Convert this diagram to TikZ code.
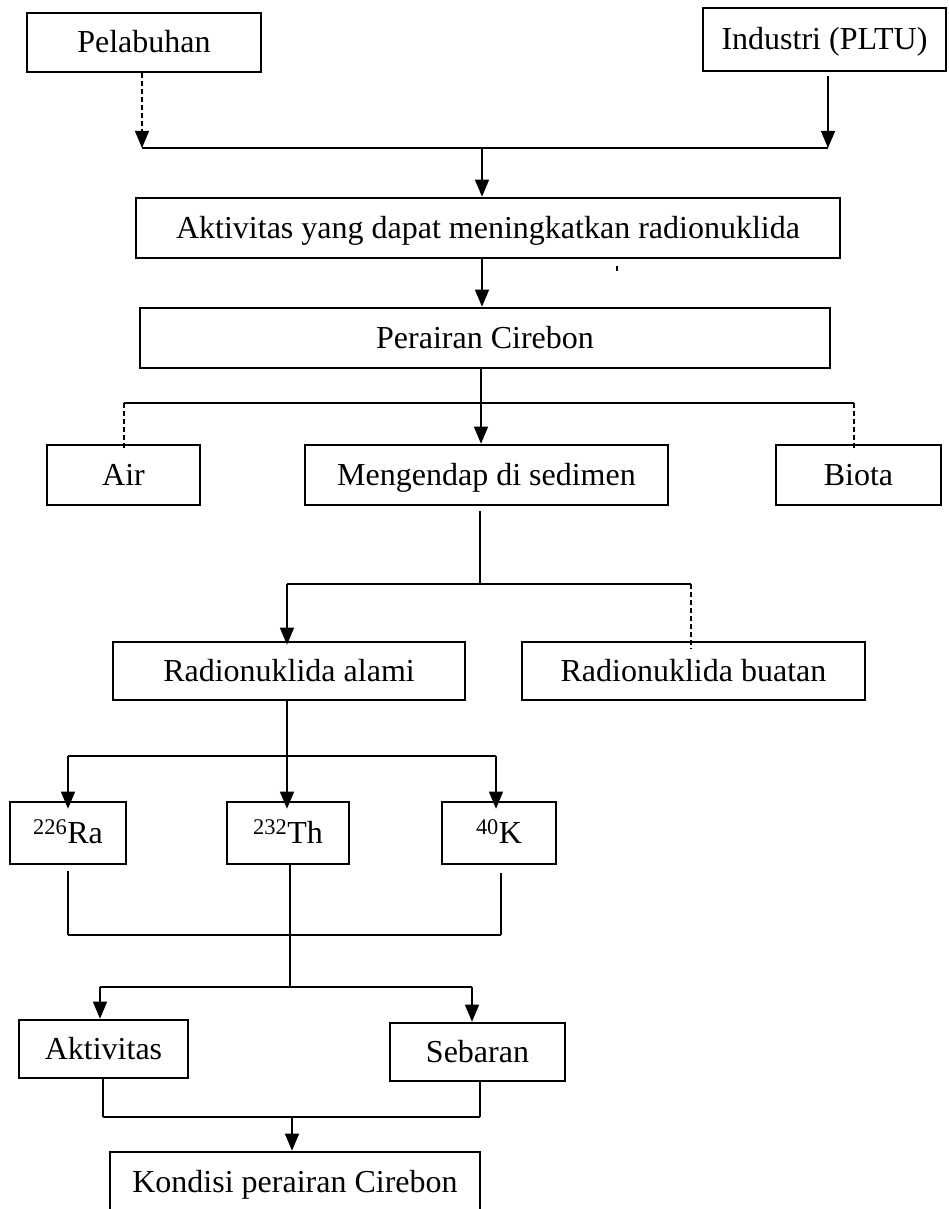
\documentclass[tikz,border=0pt]{standalone}
\usepackage{fontspec}
\setmainfont{Liberation Serif}
\usetikzlibrary{arrows.meta,calc}
\tikzset{
  box/.style={draw, line width=2.6pt, rectangle, inner sep=0pt, align=center,
    text height=28pt, text depth=7pt,
    font=\fontsize{32}{38}\selectfont},
  tip/.style={-{Triangle[length=17pt,width=14pt]}},
  conn/.style={line width=1.3pt},
  arr/.style={conn, tip},
  dsh/.style={conn, dash pattern=on 5pt off 3pt},
}
\begin{document}
\begin{tikzpicture}[x=1pt,y=-1pt]
\useasboundingbox (0,0) rectangle (948,1209);
% nodes
\node[box, minimum width=234pt, minimum height=59pt] (pel) at (144,42.5) {Pelabuhan};
\node[box, minimum width=243pt, minimum height=63pt] (ind) at (824.5,39.5) {Industri (PLTU)};
\node[box, minimum width=704pt, minimum height=60pt] (akt) at (488,228) {Aktivitas yang dapat meningkatkan radionuklida};
\node[box, minimum width=690pt, minimum height=60pt] (per) at (485,338) {Perairan Cirebon};
\node[box, minimum width=153pt, minimum height=60pt] (air) at (123.5,475) {Air};
\node[box, minimum width=363pt, minimum height=60pt] (meng) at (486.5,475) {Mengendap di sedimen};
\node[box, minimum width=165pt, minimum height=60pt] (bio) at (858.5,475) {Biota};
\node[box, minimum width=352pt, minimum height=58pt] (alami) at (289,671) {Radionuklida alami};
\node[box, minimum width=343pt, minimum height=58pt] (buatan) at (693.5,671) {Radionuklida buatan};
\node[box, minimum width=116pt, minimum height=62pt] (ra) at (68,833) {\textsuperscript{226}Ra};
\node[box, minimum width=122pt, minimum height=62pt] (th) at (288,833) {\textsuperscript{232}Th};
\node[box, minimum width=114pt, minimum height=62pt] (k) at (499,833) {\textsuperscript{40}K};
\node[box, minimum width=169pt, minimum height=58pt] (aktv) at (103.5,1049) {Aktivitas};
\node[box, minimum width=175pt, minimum height=58pt] (seb) at (477.5,1052) {Sebaran};
\node[box, minimum width=370pt, minimum height=60pt] (kon) at (295,1182) {Kondisi perairan Cirebon};
% junction coordinates
\coordinate (j1l) at (142,148);
\coordinate (j1r) at (828,148);
\coordinate (j1c) at (482,148);
\coordinate (j2c) at (481,403);
\coordinate (j2l) at (124,403);
\coordinate (j2r) at (854,403);
\coordinate (j3c) at (480,584);
\coordinate (j3l) at (287,584);
\coordinate (j3r) at (691,584);
\coordinate (j4c) at (287,756);
\coordinate (j4l) at (68,756);
\coordinate (j4r) at (496,756);
\coordinate (j5l) at (68,935);
\coordinate (j5r) at (501,935);
\coordinate (j6c) at (290,987);
\coordinate (j6l) at (100,987);
\coordinate (j6r) at (472,987);
\coordinate (j7l) at (103,1117);
\coordinate (j7r) at (480,1117);
\coordinate (j7c) at (292,1117);
% level 1
\draw[dsh, tip] (j1l |- pel.south) -- (j1l);
\draw[arr] ([yshift=-4pt]j1r |- ind.south) -- (j1r);
\draw[conn] (j1l) -- (j1r);
\draw[arr] (j1c) -- (j1c |- akt.north);
\draw[arr] (j1c |- akt.south) -- (j1c |- per.north);
\draw[line width=1.2pt] (617,266) -- (617,271);
% level 2
\draw[conn] (j2c |- per.south) -- (j2c);
\draw[arr] (j2c) -- (j2c |- meng.north);
\draw[conn] (j2l) -- (j2r);
\draw[dsh] (j2l) -- ([yshift=-7pt]j2l |- air.north);
\draw[dsh] (j2r) -- ([yshift=-7pt]j2r |- bio.north);
% level 3
\draw[conn] ([yshift=-5pt]j3c |- meng.south) -- (j3c);
\draw[conn] (j3l) -- (j3r);
\draw[arr] (j3l) -- ([yshift=-4pt]j3l |- alami.north);
\draw[dsh] (j3r) -- ([yshift=-8pt]j3r |- buatan.north);
% level 4
\draw[conn] (j4c |- alami.south) -- (j4c);
\draw[conn] (j4l) -- (j4r);
\draw[arr] (j4l) -- ([yshift=-8pt]j4l |- ra.north);
\draw[arr] (j4c) -- ([yshift=-8pt]j4c |- th.north);
\draw[arr] (j4r) -- ([yshift=-8pt]j4r |- k.north);
% level 5
\draw[conn] ([yshift=-6pt]j5l |- ra.south) -- (j5l);
\draw[conn] ([yshift=-8pt]j5r |- k.south) -- (j5r);
\draw[conn] (j5l) -- (j5r);
\draw[conn] (j6c |- th.south) -- (j6c);
\draw[conn] (j6l) -- (j6r);
\draw[arr] (j6l) -- (j6l |- aktv.north);
\draw[arr] (j6r) -- (j6r |- seb.north);
% level 6
\draw[conn] (j7l |- aktv.south) -- (j7l);
\draw[conn] (j7r |- seb.south) -- (j7r);
\draw[conn] (j7l) -- (j7r);
\draw[arr] (j7c) -- (j7c |- kon.north);
\end{tikzpicture}
\end{document}
